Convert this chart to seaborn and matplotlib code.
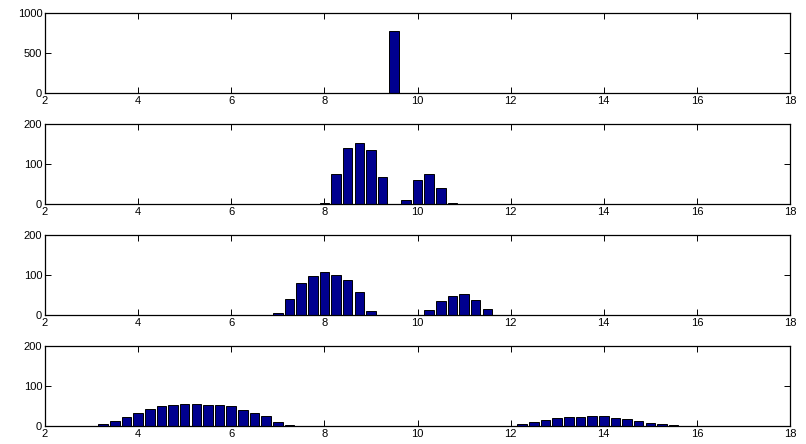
import pandas as pd
import matplotlib
matplotlib.use("Agg")
import matplotlib.pyplot as plt
import seaborn as sns

# bin centres (width 0.25) and counts for each panel
centers_1 = [9.5]
counts_1 = [775]

centers_2 = [8.0, 8.25, 8.5, 8.75, 9.0, 9.25, 9.75, 10.0, 10.25, 10.5, 10.75]
counts_2 = [3, 76, 139, 153, 136, 67, 10, 61, 76, 41, 2]

centers_3 = [7.0, 7.25, 7.5, 7.75, 8.0, 8.25, 8.5, 8.75, 9.0,
             10.25, 10.5, 10.75, 11.0, 11.25, 11.5, 11.75]
counts_3 = [4, 41, 79, 98, 107, 101, 88, 57, 10,
            12, 35, 48, 52, 38, 15, 1]

centers_4 = [3.0, 3.25, 3.5, 3.75, 4.0, 4.25, 4.5, 4.75, 5.0, 5.25, 5.5,
             5.75, 6.0, 6.25, 6.5, 6.75, 7.0, 7.25,
             12.0, 12.25, 12.5, 12.75, 13.0, 13.25, 13.5, 13.75, 14.0,
             14.25, 14.5, 14.75, 15.0, 15.25, 15.5]
counts_4 = [1, 5, 12, 23, 33, 42, 49, 52, 55, 56, 53,
            52, 49, 40, 33, 24, 9, 2,
            1, 6, 9, 15, 19, 22, 22, 24, 24,
            21, 17, 13, 8, 5, 2]

ylims = [1000, 200, 200, 200]
yticks = [[0, 500, 1000], [0, 100, 200], [0, 100, 200], [0, 100, 200]]
xticks = [2, 4, 6, 8, 10, 12, 14, 16, 18]

sns.set_style("ticks")
plt.rcParams["font.family"] = ["Liberation Sans", "DejaVu Sans"]

bar_color = "#00008F"

fig = plt.figure(figsize=(8.06, 4.44), dpi=100)
panels = [(centers_1, counts_1), (centers_2, counts_2),
          (centers_3, counts_3), (centers_4, counts_4)]
tops = [13, 124, 235, 346]

for i, (cx, cy) in enumerate(panels):
    top = tops[i]
    ax = fig.add_axes([45 / 806, 1 - (top + 80) / 444, 745 / 806, 80 / 444])
    df = pd.DataFrame({"center": cx, "count": cy})
    sns.histplot(data=df, x="center", weights="count", binwidth=0.25,
                 binrange=(1.875, 17.875), shrink=0.82, ax=ax,
                 color=bar_color, edgecolor="black", linewidth=0.7, alpha=1)
    ax.set_xlim(2, 18)
    ax.set_ylim(0, ylims[i])
    ax.set_xticks(xticks)
    ax.set_yticks(yticks[i])
    ax.set_ylabel("")
    ax.set_xlabel("")
    ax.tick_params(axis="both", direction="in", top=True, right=True,
                   labelsize=8, length=4, width=0.7, pad=2,
                   color="black", labelcolor="black")
    for s in ax.spines.values():
        s.set_linewidth(0.9)
        s.set_color("black")

fig.savefig("out.png", dpi=100)
